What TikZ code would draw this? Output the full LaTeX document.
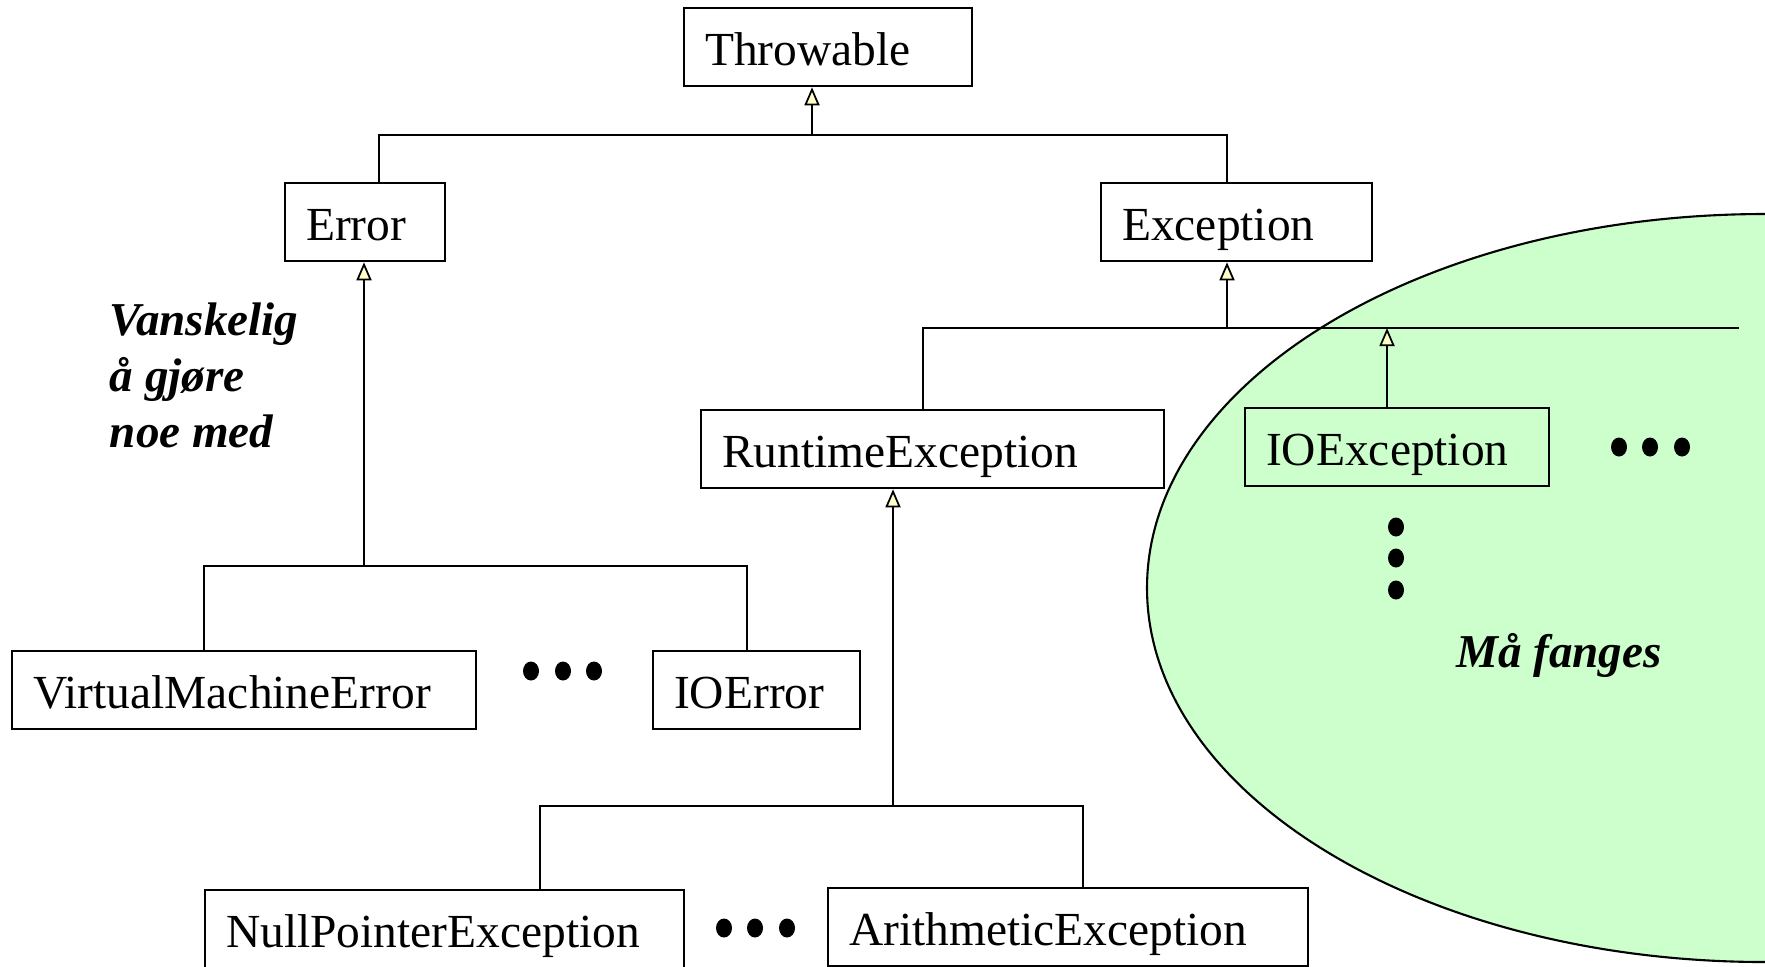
\documentclass[tikz,border=0pt]{standalone}
\usepackage{fontspec}
\setmainfont{Liberation Serif}
\usetikzlibrary{arrows.meta}
\definecolor{catchgreen}{HTML}{CCFFCC}
\definecolor{tipyellow}{HTML}{FFFFCC}
\tikzset{
  cls/.style={draw, line width=0.65pt, anchor=north west, inner xsep=0.21cm, inner ysep=0pt,
    text height=0.57cm, text depth=0.21cm, align=left, text width=#1,
    font=\fontsize{13.5}{16}\selectfont},
  inh/.style={-{Triangle[length=0.18cm, width=0.15cm, fill=tipyellow]}},
  note/.style={align=left, inner sep=0pt, font=\fontsize{13.4}{15.9}\selectfont\bfseries\itshape}
}
\begin{document}
\begin{tikzpicture}[line width=0.5pt]
    \clip (0,0) rectangle (17.65,-9.66);
    \draw[fill=catchgreen, line width=0.6pt] (17.65,-5.88) ellipse [x radius=6.18, y radius=3.74];
    \node[cls=2.46cm] (throwable) at (6.83,-0.07) {Throwable};
    \node[cls=1.18cm] (error) at (2.84,-1.82) {Error};
    \node[cls=2.29cm] (exception) at (11.00,-1.82) {Exception};
    \node[cls=4.21cm] (runtime) at (7.00,-4.09) {RuntimeException};
    \node[cls=2.62cm] (ioexc) at (12.44,-4.07) {IOException};
    \node[cls=4.22cm] (vme) at (0.11,-6.50) {VirtualMachineError};
    \node[cls=1.65cm] (ioerror) at (6.52,-6.50) {IOError};
    \node[cls=4.37cm] (npe) at (2.04,-8.89) {NullPointerException};
    \node[cls=4.38cm] (arith) at (8.27,-8.87) {ArithmeticException};
    \coordinate (tb) at (8.12,-1.35);
    \coordinate (tl) at (3.79,-1.35);
    \coordinate (tr) at (12.27,-1.35);
    \draw (tl |- error.north) -- (tl) -- (tr) -- (tr |- exception.north);
    \draw[inh] (tb) -- (tb |- throwable.south);
    \coordinate (eb) at (3.64,-5.66);
    \coordinate (el) at (2.04,-5.66);
    \coordinate (er) at (7.47,-5.66);
    \draw (el |- vme.north) -- (el) -- (er) -- (er |- ioerror.north);
    \draw[inh] (eb) -- (eb |- error.south);
    \coordinate (xb) at (12.27,-3.28);
    \coordinate (xl) at (9.23,-3.28);
    \coordinate (xr) at (17.39,-3.28);
    \coordinate (xi) at (13.87,-3.28);
    \draw (xl |- runtime.north) -- (xl) -- (xr);
    \draw[inh] (xb) -- (xb |- exception.south);
    \draw[inh] (xi |- ioexc.north) -- (xi);
    \coordinate (rb) at (8.93,-8.06);
    \coordinate (rl) at (5.40,-8.06);
    \coordinate (rr) at (10.83,-8.06);
    \draw (rl |- npe.north) -- (rl) -- (rr) -- (rr |- arith.north);
    \draw[inh] (rb) -- (rb |- runtime.south);
    \foreach \x in {5.31, 5.63, 5.94}
      \fill (\x,-6.71) ellipse [x radius=0.08, y radius=0.095];
    \foreach \x in {16.19, 16.50, 16.82}
      \fill (\x,-4.47) ellipse [x radius=0.08, y radius=0.095];
    \foreach \y in {-5.27, -5.58, -5.90}
      \fill (13.96,\y) ellipse [x radius=0.08, y radius=0.095];
    \foreach \x in {7.24, 7.55, 7.87}
      \fill (\x,-9.28) ellipse [x radius=0.08, y radius=0.095];
    \node[note, anchor=north west] (hard) at (1.09,-3.02) {Vanskelig\\å gjøre\\noe med};
    \node[note] (catch) at (15.59,-6.55) {Må fanges};
\end{tikzpicture}
\end{document}
